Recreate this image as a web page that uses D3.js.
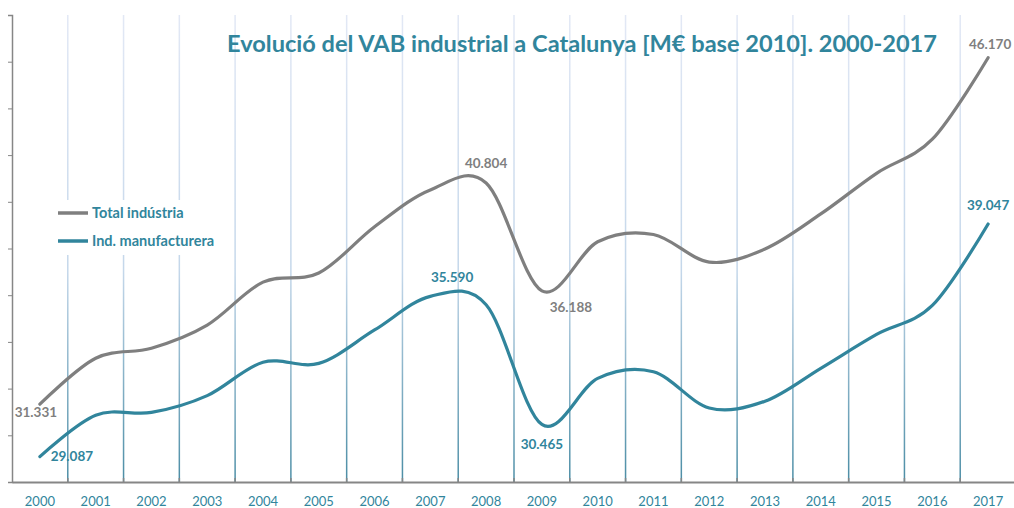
<!DOCTYPE html>
<html>
<head>
<meta charset="utf-8">
<script src="https://cdn.jsdelivr.net/npm/d3@7"></script>
<style>
  html, body { margin: 0; padding: 0; background: #ffffff; }
  svg { display: block; }
</style>
</head>
<body>
<svg id="chart" width="1014" height="508"></svg>
<script>
// ---- data (M€ base 2010) ----
const years = ["2000","2001","2002","2003","2004","2005","2006","2007","2008","2009","2010","2011","2012","2013","2014","2015","2016","2017"];
const totalIndustria = [31331, 33300, 33730, 34720, 36560, 36950, 38930, 40510, 40804, 36188, 38290, 38600, 37420, 37980, 39480, 41220, 42680, 46170];
const manufacturera  = [29087, 30860, 30980, 31700, 33130, 33080, 34510, 35950, 35590, 30465, 32440, 32720, 31170, 31460, 32870, 34320, 35560, 39047];
const seriesNames = ["Total indústria", "Ind. manufacturera"];
const labelledYears = ["2000", "2008", "2009", "2017"];
const titleText = "Evolució del VAB industrial a Catalunya [M€ base 2010]. 2000-2017";

// ---- styling / layout ----
const W = 1014, H = 508;
const plot = { left: 12, right: 1016, top: 15, bottom: 482 };
const grayCol = "#7f7f7f", tealCol = "#31859c", axisCol = "#868686";
const font = "Lato, 'Open Sans', 'DejaVu Sans', sans-serif";

const svg = d3.select("#chart");
svg.append("rect").attr("width", W).attr("height", H).attr("fill", "#fff");

const x = d3.scaleBand().domain(years).range([plot.left, plot.right]).padding(0);
const cx = d => x(d) + x.bandwidth() / 2;
const y = d3.scaleLinear().domain([28000, 48000]).range([plot.bottom, plot.top]);

// gradient for vertical gridlines
const defs = svg.append("defs");
const grad = defs.append("linearGradient").attr("id", "gridGrad")
  .attr("gradientUnits", "userSpaceOnUse")
  .attr("x1", 0).attr("x2", 0).attr("y1", plot.top).attr("y2", plot.bottom);
grad.append("stop").attr("offset", "0%").attr("stop-color", "#e2e8f5");
grad.append("stop").attr("offset", "55%").attr("stop-color", "#c4d7ea");
grad.append("stop").attr("offset", "100%").attr("stop-color", "#4b8da5");

// vertical gridlines at category boundaries
svg.append("g").selectAll("line")
  .data(years.slice(1))
  .join("line")
  .attr("x1", d => x(d)).attr("x2", d => x(d))
  .attr("y1", plot.top).attr("y2", plot.bottom)
  .attr("stroke", "url(#gridGrad)")
  .attr("stroke-width", 1.5);

// y axis (no labels)
const yAxis = svg.append("g").attr("transform", `translate(${plot.left},0)`)
  .call(d3.axisLeft(y).tickValues(d3.range(28000, 48001, 2000)).tickSize(4).tickFormat(""));
yAxis.select(".domain").attr("stroke", axisCol).attr("stroke-width", 1.5);
yAxis.selectAll(".tick line").attr("stroke", axisCol).attr("stroke-width", 1);

// x axis
const xAxis = svg.append("g").attr("transform", `translate(0,${plot.bottom})`)
  .call(d3.axisBottom(x).tickSize(0).tickPadding(15));
xAxis.select(".domain").attr("stroke", axisCol).attr("stroke-width", 2);
xAxis.selectAll(".tick text")
  .attr("fill", tealCol).attr("font-family", font).attr("font-size", 13);

// inward boundary tick marks on x axis
svg.append("g").selectAll("line")
  .data(years.slice(1))
  .join("line")
  .attr("x1", d => x(d)).attr("x2", d => x(d))
  .attr("y1", plot.bottom).attr("y2", plot.bottom - 4)
  .attr("stroke", axisCol).attr("stroke-width", 1.5);

// title
const title = svg.append("text")
  .attr("x", 582).attr("y", 52)
  .attr("text-anchor", "middle")
  .attr("font-family", font).attr("font-weight", "bold")
  .attr("font-size", 22).attr("fill", tealCol)
  .text(titleText);
const tw = title.node().getComputedTextLength();
title.attr("font-size", 22 * 710 / tw);

// legend (white box hiding gridlines)
svg.append("rect").attr("x", 55).attr("y", 200).attr("width", 170).attr("height", 55).attr("fill", "#fff");
const legend = svg.append("g");
[grayCol, tealCol].forEach((c, i) => {
  const ly = 213 + i * 28;
  legend.append("line").attr("x1", 58).attr("x2", 88).attr("y1", ly).attr("y2", ly)
    .attr("stroke", c).attr("stroke-width", 3.5);
  legend.append("text").attr("x", 92).attr("y", ly + 5)
    .attr("font-family", font).attr("font-weight", "bold").attr("font-size", 14.5)
    .attr("fill", tealCol).text(seriesNames[i]);
});

// lines
const line = d3.line()
  .x((d, i) => cx(years[i]))
  .y(d => y(d))
  .curve(d3.curveCardinal.tension(0));

svg.append("path").datum(totalIndustria).attr("d", line)
  .attr("fill", "none").attr("stroke", grayCol).attr("stroke-width", 3.2)
  .attr("stroke-linecap", "round").attr("stroke-linejoin", "round");
svg.append("path").datum(manufacturera).attr("d", line)
  .attr("fill", "none").attr("stroke", tealCol).attr("stroke-width", 3.2)
  .attr("stroke-linecap", "round").attr("stroke-linejoin", "round");

// data labels
const fmt = d3.formatLocale({ decimal: ",", thousands: ".", grouping: [3], currency: ["", "€"] }).format(",");
const labelOffsets = {
  total: { "2000": [-4, 13], "2008": [0, -15], "2009": [29, 21], "2017": [2, -9] },
  manuf: { "2000": [32, 4.5], "2008": [-34, -23], "2009": [0, 25], "2017": [0, -14] }
};
function addLabels(values, key, color) {
  svg.append("g").selectAll("text")
    .data(labelledYears)
    .join("text")
    .attr("x", yr => cx(yr) + labelOffsets[key][yr][0])
    .attr("y", yr => y(values[years.indexOf(yr)]) + labelOffsets[key][yr][1])
    .attr("text-anchor", "middle")
    .attr("font-family", font).attr("font-weight", "bold").attr("font-size", 13.5)
    .attr("fill", color)
    .text(yr => fmt(values[years.indexOf(yr)]));
}
addLabels(totalIndustria, "total", grayCol);
addLabels(manufacturera, "manuf", tealCol);
</script>
</body>
</html>
